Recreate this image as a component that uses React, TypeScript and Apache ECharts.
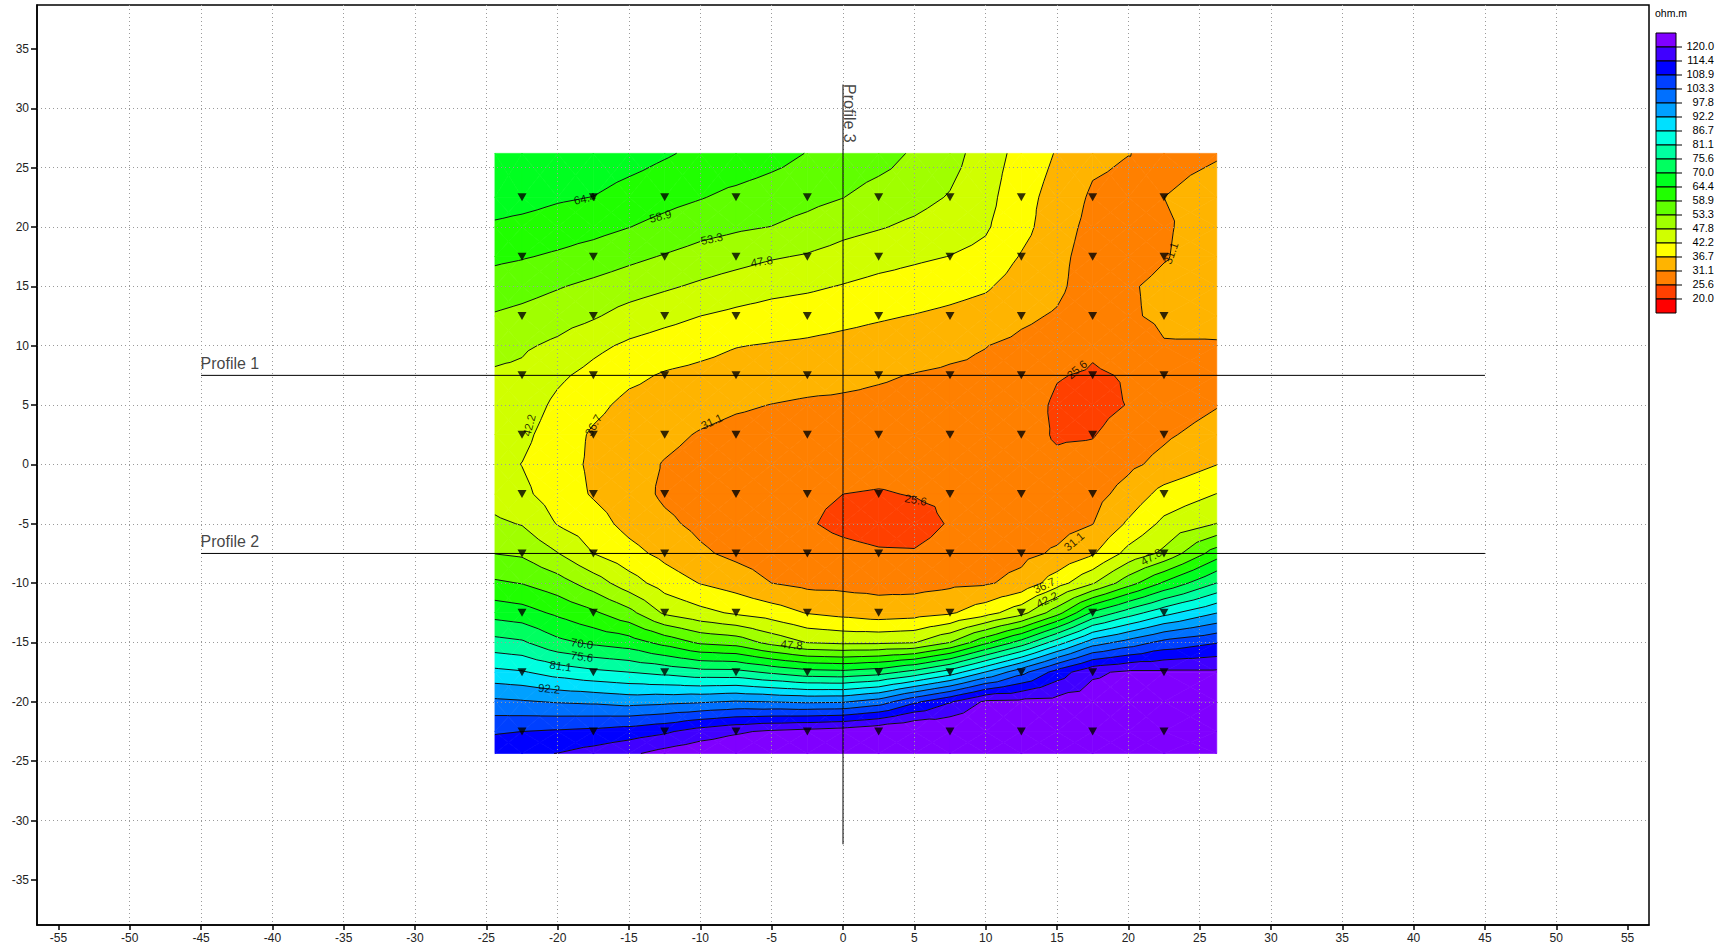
import React, { useEffect, useRef } from 'react';
import * as echarts from 'echarts';

// Grid nodes of the resistivity map (data units)
const GRID_X = [-24.4, -22.5, -20, -17.5, -15, -12.5, -10, -7.5, -5, -2.5, 0, 2.5, 5, 7.5, 10, 12.5, 15, 17.5, 20, 22.5, 26.2];
const GRID_Y = [26.2, 22.5, 20, 17.5, 15, 12.5, 10, 7.5, 5, 2.5, 0, -2.5, -5, -7.5, -10, -12.5, -15, -17.5, -20, -22.5, -24.35];

// Apparent resistivity (ohm.m), one list per GRID_X column, from top (GRID_Y[0]) to bottom
const RHO_COLUMNS = [
  [69, 67, 63.6, 60.0, 56.4, 52.8, 49.7, 47.0, 45.0, 43.8, 43.8, 45.5, 48.8, 53.2, 59.7, 67.8, 77.5, 88.1, 99.0, 108.3, 112.5],
  [69, 66.5, 62.8, 59.3, 55.4, 51.8, 48.6, 46.6, 45.1, 43.5, 42.1, 43.4, 47.5, 52.5, 58.7, 66.7, 76.4, 87.2, 98.4, 108.9, 113.5],
  [68.5, 65.1, 61.7, 58.1, 53.7, 50.2, 46.7, 43.2, 41.0, 39.6, 38.9, 39.6, 41.9, 48.0, 55.7, 63.3, 71.4, 84.4, 97.4, 109.6, 114.5],
  [68.3, 64.3, 60.7, 56.5, 52.0, 48.4, 43.6, 40.5, 38.1, 36.0, 35.8, 36.2, 39.0, 42.2, 50.7, 59.8, 68.9, 82.4, 96.8, 110.3, 116.5],
  [66.9, 62.2, 59.0, 54.6, 50.3, 45.7, 41.2, 37.9, 35.3, 33.8, 33.2, 33.6, 35.0, 38.5, 44.7, 55.0, 67.1, 81.1, 95.7, 111.5, 119],
  [65.0, 60.7, 57.2, 52.9, 48.6, 43.9, 39.6, 36.2, 34.3, 32.4, 30.8, 30.2, 32.2, 35.2, 39.7, 46.9, 62.6, 79.5, 96.4, 113.5, 122],
  [63.2, 59.2, 55.3, 51.2, 46.9, 42.2, 38.3, 35.3, 33.0, 30.7, 29.3, 28.6, 29.8, 32.0, 36.5, 43.8, 58.0, 77.6, 97.2, 116.9, 124],
  [62.7, 57.5, 54.1, 49.8, 45.3, 40.9, 36.9, 34.4, 31.8, 29.5, 27.8, 27.0, 27.8, 29.8, 34.3, 41.4, 56.6, 77.4, 98.3, 119.2, 125],
  [61.0, 56.1, 53.2, 48.3, 43.9, 39.9, 36.3, 33.6, 31.0, 29.0, 27.6, 26.7, 26.5, 28.2, 31.1, 39.4, 51.5, 74.6, 97.7, 120.9, 126],
  [58.7, 54.9, 51.6, 47.3, 43.1, 39.2, 35.8, 33.1, 30.4, 28.6, 27.2, 26.3, 26.0, 27.5, 29.7, 36.4, 47.6, 72.1, 97.0, 121.9, 127],
  [57.3, 53.4, 49.5, 45.7, 41.9, 38.2, 35.1, 32.4, 30.2, 28.8, 27.3, 25.6, 24.6, 26.8, 29.6, 35.0, 46.7, 71.5, 97.3, 123, 128],
  [55.8, 51.0, 48.2, 44.3, 40.6, 37.3, 34.4, 31.6, 30.0, 28.4, 27.0, 25.3, 23.8, 26.1, 29.3, 33.7, 46.8, 73.2, 100.4, 125, 129],
  [52.5, 49.7, 46.7, 43.1, 39.8, 36.5, 33.6, 30.9, 29.6, 28.3, 27.0, 25.8, 23.6, 26.0, 29.2, 34.4, 47.5, 77.5, 107.8, 127, 130],
  [50.0, 47.4, 44.7, 42.1, 38.7, 35.5, 32.4, 30.3, 29.2, 28.2, 27.3, 26.4, 26.0, 27.5, 30.0, 36.0, 53.3, 83.6, 113.9, 126, 130],
  [44.9, 43.9, 42.8, 40.8, 37.4, 34.3, 31.2, 30.2, 29.2, 28.3, 27.8, 27.6, 27.8, 28.6, 30.5, 40.0, 63.1, 92.4, 121, 127, 130],
  [40.4, 38.8, 38.6, 36.3, 34.1, 32.0, 30.0, 28.8, 28.0, 27.5, 27.5, 27.7, 28.3, 29.6, 32.8, 45.7, 72.3, 101.4, 121.5, 126, 129],
  [36.3, 34.5, 33.3, 32.5, 32.2, 30.6, 29.0, 25.9, 24.8, 25.1, 26.5, 27.5, 29.0, 31.9, 39.7, 56.6, 83.9, 111.2, 122, 126, 128],
  [32.4, 30.3, 29.6, 28.9, 28.3, 27.6, 26.4, 25.0, 23.8, 25.3, 27.4, 29.2, 31.0, 36.1, 47.3, 70.9, 95.0, 119, 123, 125, 127],
  [31.2, 29.5, 29.0, 29.0, 30.6, 30.5, 28.0, 26.0, 25.8, 28.3, 30.0, 33.1, 37.5, 44.0, 56.5, 78.3, 100, 121, 123, 124, 126],
  [30.0, 31.1, 30.6, 30.8, 32.2, 32.0, 30.8, 29.0, 28.0, 30.3, 32.6, 38.6, 43.5, 49.0, 65.2, 84.8, 105, 121, 123, 124, 125],
  [30.8, 32.5, 33.2, 33.5, 33.2, 32.3, 30.8, 29.8, 30.8, 33.4, 36.6, 42.3, 47.9, 61.7, 75.7, 92.0, 108.5, 121, 123, 124, 125],
];

const LEVELS = [20.0, 25.6, 31.1, 36.7, 42.2, 47.8, 53.3, 58.9, 64.4, 70.0, 75.6, 81.1, 86.7, 92.2, 97.8, 103.3, 108.9, 114.4, 120.0];
// colour of each band, from below the first level to above the last
const BAND_COLORS = [
  '#ff0000', '#ff4000', '#ff8000', '#ffb400', '#ffff00', '#d0ff00', '#a0ff00', '#60ff00', '#20ff00', '#00ff20',
  '#00ff60', '#00ffa0', '#00ffe0', '#00e0ff', '#00a0ff', '#0070ff', '#0040ff', '#0000ff', '#4000ff', '#8000ff',
];

const STATION_X = [-22.5, -17.5, -12.5, -7.5, -2.5, 2.5, 7.5, 12.5, 17.5, 22.5];
const STATION_Y = [22.5, 17.5, 12.5, 7.5, 2.5, -2.5, -7.5, -12.5, -17.5, -22.5];

const X_TICKS = [-55, -50, -45, -40, -35, -30, -25, -20, -15, -10, -5, 0, 5, 10, 15, 20, 25, 30, 35, 40, 45, 50, 55];
const Y_TICKS = [-35, -30, -25, -20, -15, -10, -5, 0, 5, 10, 15, 20, 25, 30, 35];

const PROFILE_NAMES = ['Profile 1', 'Profile 2', 'Profile 3'];
const PROFILE_START = [[-45, 7.5], [-45, -7.5], [0, 32]];
const PROFILE_END = [[45, 7.5], [45, -7.5], [0, -32]];

const CONTOUR_LABEL_TEXT = ['64.4', '58.9', '53.3', '47.8', '42.2', '36.7', '31.1', '31.1', '25.6', '25.6', '31.1', '36.7', '42.2', '47.8', '47.8', '70.0', '75.6', '81.1', '92.2'];
const CONTOUR_LABEL_X = [-18.1, -12.8, -9.2, -5.7, -22.0, -17.5, -9.2, 23.0, 16.4, 5.1, 16.2, 14.1, 14.3, 21.6, -3.6, -18.3, -18.3, -19.8, -20.6];
const CONTOUR_LABEL_Y = [22.4, 20.9, 19.0, 17.1, 3.3, 3.3, 3.6, 17.8, 8.0, -3.0, -6.5, -10.2, -11.4, -7.8, -15.2, -15.1, -16.2, -17.0, -18.9];
const CONTOUR_LABEL_ANGLE = [12, 14, 12, 8, 75, 60, 25, 70, 40, -10, 40, 25, 25, 30, -5, -8, -8, -8, -5];

const FONT = '"Liberation Sans", Arial, sans-serif';

type P = { x: number; y: number; v: number };

function nudge(v: number): number {
  for (const L of LEVELS) if (Math.abs(v - L) < 1e-9) return v + 1e-6;
  return v;
}

function clip(poly: P[], thr: number, keepAbove: boolean): P[] {
  const out: P[] = [];
  const n = poly.length;
  for (let k = 0; k < n; k++) {
    const a = poly[k];
    const b = poly[(k + 1) % n];
    const ina = keepAbove ? a.v >= thr : a.v <= thr;
    const inb = keepAbove ? b.v >= thr : b.v <= thr;
    if (ina) out.push(a);
    if (ina !== inb) {
      const t = (thr - a.v) / (b.v - a.v);
      out.push({ x: a.x + t * (b.x - a.x), y: a.y + t * (b.y - a.y), v: thr });
    }
  }
  return out;
}

function cellTriangles(api: any): P[][] {
  const i = api.value(2) as number;
  const j = api.value(3) as number;
  const idx = [[i, j], [i + 1, j], [i + 1, j + 1], [i, j + 1]];
  const pts: P[] = idx.map(([a, b]) => {
    const p = api.coord([GRID_X[a], GRID_Y[b]]);
    return { x: p[0], y: p[1], v: nudge(RHO_COLUMNS[a][b]) };
  });
  const center: P = {
    x: (pts[0].x + pts[1].x + pts[2].x + pts[3].x) / 4,
    y: (pts[0].y + pts[1].y + pts[2].y + pts[3].y) / 4,
    v: nudge((pts[0].v + pts[1].v + pts[2].v + pts[3].v) / 4),
  };
  const tris: P[][] = [];
  for (let t = 0; t < 4; t++) tris.push([pts[t], pts[(t + 1) % 4], center]);
  return tris;
}

function renderFill(_params: any, api: any) {
  const children: any[] = [];
  for (const tri of cellTriangles(api)) {
    const vmin = Math.min(tri[0].v, tri[1].v, tri[2].v);
    const vmax = Math.max(tri[0].v, tri[1].v, tri[2].v);
    for (let b = 0; b < BAND_COLORS.length; b++) {
      const lo = b === 0 ? -Infinity : LEVELS[b - 1];
      const hi = b === LEVELS.length ? Infinity : LEVELS[b];
      if (vmax < lo || vmin > hi) continue;
      let poly = tri;
      if (lo > -Infinity) poly = clip(poly, lo, true);
      if (poly.length < 3) continue;
      if (hi < Infinity) poly = clip(poly, hi, false);
      if (poly.length < 3) continue;
      children.push({
        type: 'polygon',
        shape: { points: poly.map((p) => [p.x, p.y]) },
        style: { fill: BAND_COLORS[b], stroke: BAND_COLORS[b], lineWidth: 0.7 },
      });
    }
  }
  return { type: 'group', children };
}

function renderLines(_params: any, api: any) {
  const children: any[] = [];
  for (const tri of cellTriangles(api)) {
    const vmin = Math.min(tri[0].v, tri[1].v, tri[2].v);
    const vmax = Math.max(tri[0].v, tri[1].v, tri[2].v);
    for (const L of LEVELS) {
      if (L <= vmin || L >= vmax) continue;
      const seg: number[][] = [];
      for (let e = 0; e < 3; e++) {
        const a = tri[e];
        const c = tri[(e + 1) % 3];
        if ((a.v - L) * (c.v - L) < 0) {
          const s = (L - a.v) / (c.v - a.v);
          seg.push([a.x + s * (c.x - a.x), a.y + s * (c.y - a.y)]);
        }
      }
      if (seg.length === 2) {
        children.push({
          type: 'line',
          shape: { x1: seg[0][0], y1: seg[0][1], x2: seg[1][0], y2: seg[1][1] },
          style: { stroke: '#111', lineWidth: 1 },
        });
      }
    }
  }
  return { type: 'group', children };
}

function buildLegend(): any[] {
  const els: any[] = [];
  const left = 1656;
  const top = 33;
  const boxW = 20;
  const boxH = 14;
  els.push({
    type: 'text',
    x: 1655,
    y: 13,
    style: { text: 'ohm.m', font: `10.5px ${FONT}`, fill: '#000', textAlign: 'left', textVerticalAlign: 'middle' },
  });
  const n = BAND_COLORS.length;
  for (let k = 0; k < n; k++) {
    els.push({
      type: 'rect',
      shape: { x: left, y: top + k * boxH, width: boxW, height: boxH },
      style: { fill: BAND_COLORS[n - 1 - k], stroke: '#000', lineWidth: 1 },
    });
  }
  for (let k = 1; k < n; k++) {
    const yy = top + k * boxH;
    els.push({
      type: 'line',
      shape: { x1: left + boxW, y1: yy, x2: left + boxW + 6, y2: yy },
      style: { stroke: '#000', lineWidth: 1 },
    });
    els.push({
      type: 'text',
      x: 1714,
      y: yy - 1,
      style: {
        text: LEVELS[n - 1 - k].toFixed(1),
        font: `11px ${FONT}`,
        fill: '#000',
        textAlign: 'right',
        textVerticalAlign: 'middle',
      },
    });
  }
  return els;
}

export default function App() {
  const ref = useRef<HTMLDivElement>(null);

  useEffect(() => {
    if (!ref.current) return;
    const chart = echarts.init(ref.current, undefined, { renderer: 'svg' });

    const cells: number[][] = [];
    for (let i = 0; i < GRID_X.length - 1; i++) {
      for (let j = 0; j < GRID_Y.length - 1; j++) {
        cells.push([GRID_X[i], GRID_Y[j], i, j]);
      }
    }
    const stations: number[][] = [];
    for (const y of STATION_Y) for (const x of STATION_X) stations.push([x, y]);

    const contourLabels = CONTOUR_LABEL_TEXT.map((t, k) => ({
      value: [CONTOUR_LABEL_X[k], CONTOUR_LABEL_Y[k], t],
      label: { rotate: CONTOUR_LABEL_ANGLE[k] },
    }));

    const profileLabels = PROFILE_NAMES.map((name, k) => {
      const vertical = PROFILE_START[k][0] === PROFILE_END[k][0];
      return {
        value: [PROFILE_START[k][0], PROFILE_START[k][1], name],
        label: vertical
          ? { position: [7, 0], rotate: -90, align: 'left', verticalAlign: 'middle' }
          : { position: [0, -11], align: 'left', verticalAlign: 'middle' },
      };
    });

    const axisCommon = {
      type: 'value' as const,
      z: 3,
      axisLine: { show: true, onZero: false, lineStyle: { color: '#000', width: 1.5 } },
      splitLine: {
        show: true,
        showMinLine: false,
        showMaxLine: false,
        lineStyle: { color: '#9a9a9a', width: 1, type: [1, 3] as any },
      },
    };

    const option: any = {
      animation: false,
      backgroundColor: '#fff',
      grid: {
        left: 37,
        top: 5,
        right: 78,
        bottom: 23,
        show: true,
        borderColor: '#000',
        borderWidth: 1.5,
        backgroundColor: 'transparent',
      },
      xAxis: {
        ...axisCommon,
        min: -56.5,
        max: 56.5,
        splitNumber: 22,
        axisTick: { show: true, length: 5, customValues: X_TICKS, lineStyle: { color: '#000', width: 1.5 } },
        axisLabel: { customValues: X_TICKS, color: '#222', fontSize: 12, fontFamily: FONT, margin: 7 },
      },
      yAxis: {
        ...axisCommon,
        min: -38.8,
        max: 38.7,
        splitNumber: 15,
        axisTick: { show: true, length: 6, customValues: Y_TICKS, lineStyle: { color: '#000', width: 1.5 } },
        axisLabel: { customValues: Y_TICKS, color: '#222', fontSize: 12, fontFamily: FONT, margin: 8 },
      },
      graphic: buildLegend(),
      series: [
        {
          type: 'custom',
          name: 'fill',
          silent: true,
          z: 1,
          clip: true,
          data: cells,
          encode: { x: 0, y: 1 },
          renderItem: renderFill,
        },
        {
          type: 'custom',
          name: 'contours',
          silent: true,
          z: 2,
          clip: true,
          data: cells,
          encode: { x: 0, y: 1 },
          renderItem: renderLines,
        },
        ...PROFILE_NAMES.map((name, k) => ({
          type: 'line',
          name,
          silent: true,
          z: 4,
          symbol: 'none',
          data: [PROFILE_START[k], PROFILE_END[k]],
          lineStyle: { color: '#000', width: 1 },
        })),
        {
          type: 'scatter',
          name: 'stations',
          silent: true,
          z: 5,
          symbol: 'triangle',
          symbolRotate: 180,
          symbolSize: [9, 8],
          itemStyle: { color: '#000' },
          data: stations,
        },
        {
          type: 'scatter',
          name: 'contour labels',
          silent: true,
          z: 6,
          symbolSize: 1,
          itemStyle: { color: 'rgba(0,0,0,0)' },
          label: {
            show: true,
            position: 'inside',
            formatter: (p: any) => p.value[2],
            color: '#000',
            fontSize: 11.5,
            fontFamily: FONT,
          },
          data: contourLabels,
        },
        {
          type: 'scatter',
          name: 'profile labels',
          silent: true,
          z: 6,
          symbolSize: 1,
          itemStyle: { color: 'rgba(0,0,0,0)' },
          label: {
            show: true,
            formatter: (p: any) => p.value[2],
            color: '#111',
            fontSize: 16,
            fontFamily: FONT,
          },
          data: profileLabels,
        },
      ],
    };

    chart.setOption(option);
    return () => chart.dispose();
  }, []);

  return (
    <div
      ref={ref}
      style={{ position: 'fixed', left: 0, top: 0, width: '1727px', height: '948px', background: '#fff' }}
    />
  );
}
